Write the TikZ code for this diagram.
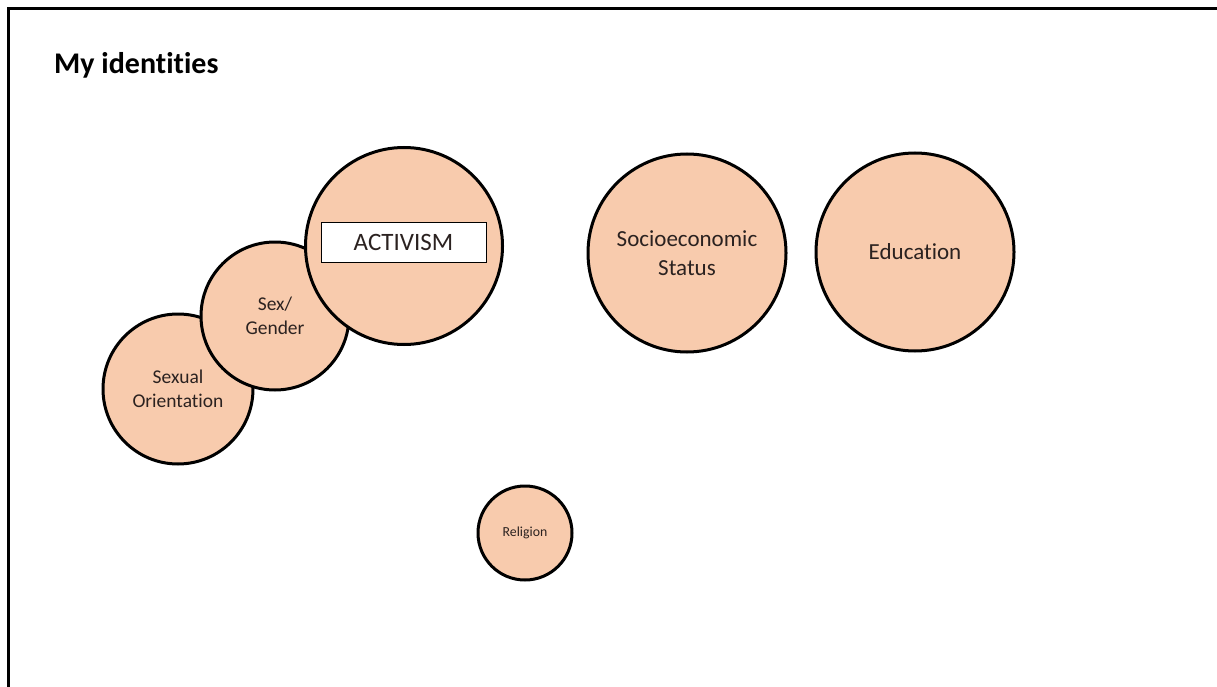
\documentclass[tikz,border=0pt]{standalone}
\usepackage{fontspec}
\setmainfont[Ligatures=NoCommon]{Carlito}
\definecolor{peach}{HTML}{F8CBAD}
\definecolor{txt}{HTML}{2B2220}
\tikzset{
  idcircle/.style={circle, draw=black, line width=3pt, fill=peach, inner sep=0pt, align=center, text=txt},
  framebar/.style={line width=2.5pt, black}
}
\begin{document}
\begin{tikzpicture}[x=1pt,y=-1pt]
\useasboundingbox (0,0) rectangle (1217,687);
\fill[white] (0,0) rectangle (1217,687);
\coordinate (tl) at (8.5,8.5);
\coordinate (tr) at (1217,8.5);
\coordinate (bl) at (8.5,687);
\draw[framebar] (tr) -- (tl) -- (bl);
\node[anchor=base west, inner sep=0pt, font=\fontsize{30}{35}\selectfont\bfseries] (title) at (54,74) {My identities};
\node[idcircle, minimum size=150pt, font=\fontsize{19.5}{24}\selectfont] (so) at (178,389) {Sexual\\Orientation};
\node[idcircle, minimum size=148pt, font=\fontsize{19.5}{24}\selectfont] (sg) at (275,316) {\rule{0pt}{6pt}Sex/\\Gender};
\node[idcircle, minimum size=197pt] (act) at (404,246) {};
\node[draw=black, line width=0.8pt, fill=white, minimum width=165pt, minimum height=40pt, inner sep=0pt, font=\fontsize{25}{30}\selectfont, text=txt] (actbox) at (403.5,242) {ACTIVISM};
\node[idcircle, minimum size=198pt, font=\fontsize{23}{28.5}\selectfont] (ses) at (687,253) {Socioeconomic\\Status};
\node[idcircle, minimum size=198pt, font=\fontsize{23}{28}\selectfont] (edu) at (915,252) {Education};
\node[idcircle, minimum size=94pt, font=\fontsize{13.8}{16}\selectfont] (rel) at (525,533) {Religion};
\end{tikzpicture}
\end{document}
